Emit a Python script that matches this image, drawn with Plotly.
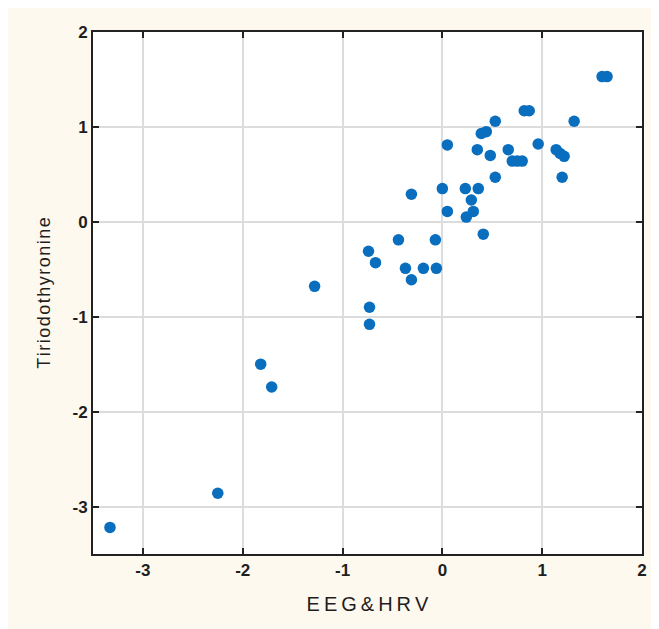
import plotly.graph_objects as go

# EEG&HRV composite score vs Tiriodothyronine score
eeg_hrv = [1.60, 1.65, 0.82, 0.87, 0.53, 1.32, 0.39, 0.44, 0.05, 0.35,
           0.48, 0.66, 0.70, 0.75, 0.80, 0.96, 1.14, 1.18, 1.22, 1.20,
           0.53, -0.31, 0.00, 0.23, 0.36, 0.29, 0.05, 0.31, 0.24, 0.41,
           -0.44, -0.07, -0.74, -0.67, -0.37, -0.19, -0.06, -0.31, -0.73, -0.73,
           -1.28, -1.82, -1.71, -2.25, -3.33]
t3 = [1.53, 1.53, 1.17, 1.17, 1.06, 1.06, 0.93, 0.95, 0.81, 0.76,
      0.70, 0.76, 0.64, 0.64, 0.64, 0.82, 0.76, 0.72, 0.69, 0.47,
      0.47, 0.29, 0.35, 0.35, 0.35, 0.23, 0.11, 0.11, 0.05, -0.13,
      -0.19, -0.19, -0.31, -0.43, -0.49, -0.49, -0.49, -0.61, -0.90, -1.08,
      -0.68, -1.50, -1.74, -2.86, -3.22]

x_ticks = [-3, -2, -1, 0, 1, 2]
y_ticks = [-3, -2, -1, 0, 1, 2]

# letter-spaced axis titles, as in the original
sp = '\u2009'
x_title = sp.join('EEG&HRV')
y_title = '\u200a'.join('Tiriodothyronine')

fig = go.Figure()
fig.add_trace(go.Scatter(x=eeg_hrv, y=t3, mode='markers',
                         marker=dict(size=11.5, color='#0A6EBF', line=dict(width=0))))

axis_style = dict(range=[-3.5, 2], showgrid=True, gridcolor='#DCDCDC', gridwidth=1.5,
                  zeroline=False, showline=True, linecolor='#222222', linewidth=2,
                  mirror='ticks', ticks='inside', ticklen=6, tickwidth=1.5, tickcolor='#222222',
                  tickfont=dict(family='Liberation Sans', size=17, color='#1E1E1E', weight='bold'))

fig.update_xaxes(axis_style, tickvals=x_ticks, ticktext=[str(v) for v in x_ticks],
                 title=dict(text=x_title, standoff=18,
                            font=dict(family='Liberation Sans', size=20, color='#1E1E1E')))
fig.update_yaxes(axis_style, tickvals=y_ticks, ticktext=[str(v) for v in y_ticks],
                 title=dict(text=y_title, standoff=17,
                            font=dict(family='Liberation Sans', size=18, color='#1E1E1E')))

fig.update_layout(width=659, height=629, showlegend=False,
                  margin=dict(l=85, r=25, t=24, b=83),
                  paper_bgcolor='#FEF9EE', plot_bgcolor='white')

fig.write_html("out.html")
